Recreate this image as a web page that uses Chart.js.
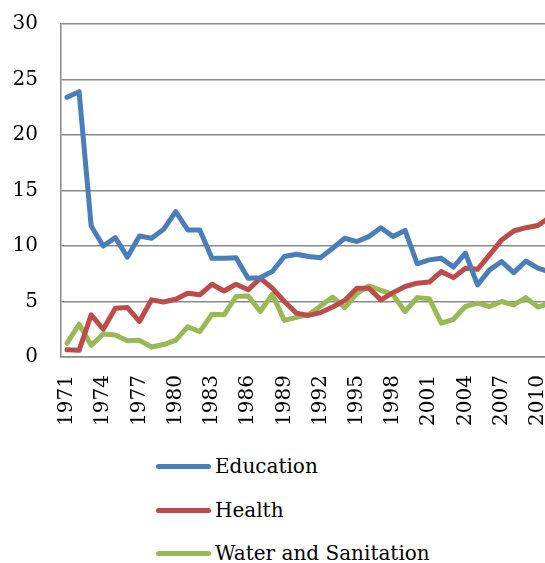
<!DOCTYPE html>
<html>
<head>
<meta charset="utf-8">
<script src="https://cdn.jsdelivr.net/npm/chart.js@4/dist/chart.umd.min.js"></script>
<style>
  html, body { margin: 0; padding: 0; background: #fff; overflow: hidden; width: 545px; height: 563px; }
  #wrap { position: relative; width: 545px; height: 563px; overflow: hidden; }
  canvas { position: absolute; left: 0; top: 0; }
  #legend { position: absolute; left: 156px; top: 0; font-family: "DejaVu Serif", serif; font-size: 20px; color: #000; }
  .item { position: absolute; left: 0; white-space: nowrap; display: flex; align-items: center; height: 30px; }
  .swatch { display: inline-block; width: 55px; height: 5px; border-radius: 2.5px; margin-right: 4px; }
</style>
</head>
<body>
<div id="wrap">
  <canvas id="c" width="560" height="440"></canvas>
  <div id="legend"></div>
</div>
<script>
const years = [];
for (let y = 1971; y <= 2011; y++) years.push(String(y));

const seriesNames = ["Education", "Health", "Water and Sanitation"];
const seriesColors = ["#4A7EBB", "#BE4B48", "#98B954"];

const education = [23.4, 23.9, 11.8, 10.0, 10.75, 9.0, 10.9, 10.7, 11.5, 13.1,
  11.45, 11.45, 8.9, 8.9, 8.95, 7.1, 7.15, 7.7, 9.05, 9.25,
  9.05, 8.95, 9.8, 10.7, 10.4, 10.85, 11.65, 10.85, 11.4, 8.4,
  8.75, 8.9, 8.1, 9.35, 6.5, 7.85, 8.6, 7.6, 8.65, 8.0, 7.65];

const health = [0.65, 0.6, 3.8, 2.5, 4.4, 4.45, 3.2, 5.15, 4.95, 5.2,
  5.75, 5.6, 6.55, 5.95, 6.55, 6.05, 7.1, 6.2, 5.0, 3.95,
  3.75, 4.0, 4.5, 5.1, 6.2, 6.2, 5.15, 5.8, 6.35, 6.65,
  6.75, 7.7, 7.15, 8.0, 7.9, 9.2, 10.55, 11.35, 11.65, 11.85, 12.6];

const water = [1.25, 2.95, 1.05, 2.07, 1.98, 1.47, 1.5, 0.9, 1.12, 1.5,
  2.73, 2.28, 3.85, 3.8, 5.45, 5.5, 4.1, 5.65, 3.3, 3.57,
  3.8, 4.6, 5.4, 4.45, 5.7, 6.4, 6.0, 5.6, 4.1, 5.35,
  5.25, 3.05, 3.4, 4.55, 4.85, 4.55, 5.0, 4.7, 5.35, 4.5, 4.85];

const yTicks = [0, 5, 10, 15, 20, 25, 30];

const fontFamily = '"DejaVu Serif", serif';
const gridColor = '#888888';

const values = [education, health, water];
const datasets = values.map((v, i) => ({
  label: seriesNames[i],
  data: v,
  borderColor: seriesColors[i],
  backgroundColor: seriesColors[i],
  borderWidth: 5,
  pointRadius: 0,
  tension: 0,
  borderJoinStyle: 'round',
  borderCapStyle: 'round',
  fill: false
}));

new Chart(document.getElementById('c'), {
  type: 'line',
  data: { labels: years, datasets },
  options: {
    responsive: false,
    devicePixelRatio: 1,
    animation: false,
    layout: { padding: { left: 0, top: 24, right: 4, bottom: 0 } },
    plugins: { legend: { display: false }, tooltip: { enabled: false } },
    scales: {
      x: {
        type: 'category',
        offset: true,
        grid: { display: false, drawTicks: false },
        border: { display: true, color: gridColor, width: 1.5 },
        ticks: {
          autoSkip: false,
          minRotation: 90,
          maxRotation: 90,
          padding: 18,
          color: '#000',
          font: { family: fontFamily, size: 20 },
          callback: function (val, idx) { return idx % 3 === 0 ? years[idx] : ''; }
        },
        afterFit: function (s) { s.height = 83; s.paddingLeft = 0; s.paddingRight = 0; }
      },
      y: {
        min: 0, max: 30,
        afterBuildTicks: function (s) { s.ticks = yTicks.map(v => ({ value: v })); },
        grid: { color: gridColor, lineWidth: 1.5, drawTicks: false },
        border: { display: true, color: gridColor, width: 1.5 },
        ticks: {
          padding: 23,
          color: '#000',
          font: { family: fontFamily, size: 20 }
        },
        afterFit: function (s) { s.width = 61; s.paddingTop = 0; s.paddingBottom = 0; }
      }
    }
  }
});

// HTML legend (real text)
const legend = document.getElementById('legend');
const rowCenters = [466, 510, 553];
seriesNames.forEach((name, i) => {
  const item = document.createElement('div');
  item.className = 'item';
  item.style.top = (rowCenters[i] - 15) + 'px';
  const sw = document.createElement('span');
  sw.className = 'swatch';
  sw.style.background = seriesColors[i];
  const tx = document.createElement('span');
  tx.textContent = name;
  item.appendChild(sw);
  item.appendChild(tx);
  legend.appendChild(item);
});
</script>
</body>
</html>
